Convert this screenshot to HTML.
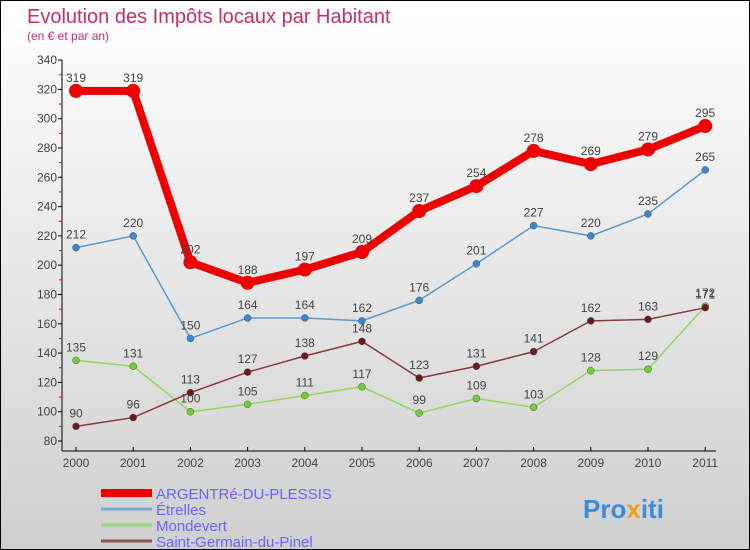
<!DOCTYPE html>
<html><head><meta charset="utf-8"><style>
body{margin:0}
#c{width:748px;height:548px;border:1px solid #000;background:linear-gradient(#ffffff,#cfcfcf);position:relative;font-family:"Liberation Sans",sans-serif;overflow:hidden}
</style></head><body>
<div id="c">
<svg id="s" width="748" height="548">
<text x="26" y="22" font-size="20" fill="#c0306a">Evolution des Impôts locaux par Habitant</text>
<text x="26" y="39" font-size="12" fill="#c0306a">(en € et par an)</text>
<g id="ax"></g><g id="ser"></g><g id="leg"></g>
<text x="582" y="517" font-size="26" font-weight="bold" fill="#3a8ed8">Pro<tspan fill="#f0a020">x</tspan>iti</text>
</svg></div>
<script>
const years=[2000,2001,2002,2003,2004,2005,2006,2007,2008,2009,2010,2011];
const yTicks=[80,100,120,140,160,180,200,220,240,260,280,300,320,340];
const argentre=[319,319,202,188,197,209,237,254,278,269,279,295];
const etrelles=[212,220,150,164,164,162,176,201,227,220,235,265];
const mondevert=[135,131,100,105,111,117,99,109,103,128,129,172];
const stgermain=[90,96,113,127,138,148,123,131,141,162,163,171];
const names=["ARGENTRé-DU-PLESSIS","Étrelles","Mondevert","Saint-Germain-du-Pinel"];
const NS="http://www.w3.org/2000/svg";
const X=i=>75+i*57.2, Y=v=>440-(v-80)*1.465;
function mk(t,a,p){const e=document.createElementNS(NS,t);for(const k in a)e.setAttribute(k,a[k]);p.appendChild(e);return e;}
const ax=document.getElementById('ax');
let l=mk('line',{x1:61,y1:59,x2:61,y2:450,stroke:'#000'},ax);
l=mk('line',{x1:61,y1:450,x2:715,y2:450,stroke:'#000'},ax);
yTicks.forEach(v=>{mk('line',{x1:57,x2:61,y1:Y(v),y2:Y(v),stroke:'#000'},ax);
 if(v<340)mk('line',{x1:58,x2:61,y1:Y(v+10),y2:Y(v+10),stroke:'#e00'},ax);
 const t=mk('text',{x:56,y:Y(v)+4,'text-anchor':'end','font-size':12,fill:'#444'},ax);t.textContent=v;
 });
years.forEach((y,i)=>{mk('line',{x1:X(i),x2:X(i),y1:446,y2:450,stroke:'#000'},ax);
 const t=mk('text',{x:X(i),y:466,'text-anchor':'middle','font-size':12,fill:'#444'},ax);t.textContent=y;
 });
const ser=document.getElementById('ser');
const defs=[[mondevert,'#90d860','#70d030',1.5,3.5,'mondevert'],[stgermain,'#8a3a3a','#6a1a1a',1.5,3.5,'saint-germain'],[etrelles,'#5a9ad0','#3a86d0',1.5,3.5,'etrelles'],[argentre,'#ee0000','#ee0000',8,7,'argentre']];
defs.forEach(([d,c,pc,w,r,n])=>{
 const g=mk('g',{},ser);
 mk('polyline',{points:d.map((v,i)=>X(i)+','+Y(v)).join(' '),fill:'none',stroke:c,'stroke-width':w,'stroke-linejoin':'round'},g);
 d.forEach((v,i)=>{const p=mk('circle',{cx:X(i),cy:Y(v),r:r,fill:pc,stroke:n=='argentre'?'none':'#555','stroke-width':0.5},g);
  
  const t=mk('text',{x:X(i),y:Y(v)-9,'text-anchor':'middle','font-size':12,fill:'#444'},g);t.textContent=v;
  });
});
const leg=document.getElementById('leg');
const lc=[['#ee0000',8],['#7aaad0',3],['#98d878',3],['#905858',3]];
names.forEach((n,i)=>{const y=492+i*16;
 const g=mk('g',{},leg);
 mk('line',{x1:100,x2:151,y1:y,y2:y,stroke:lc[i][0],'stroke-width':lc[i][1]},g);
 const t=mk('text',{x:155,y:y+6,'font-size':15,fill:'#6666ff'},g);t.textContent=n;});
</script></body></html>
